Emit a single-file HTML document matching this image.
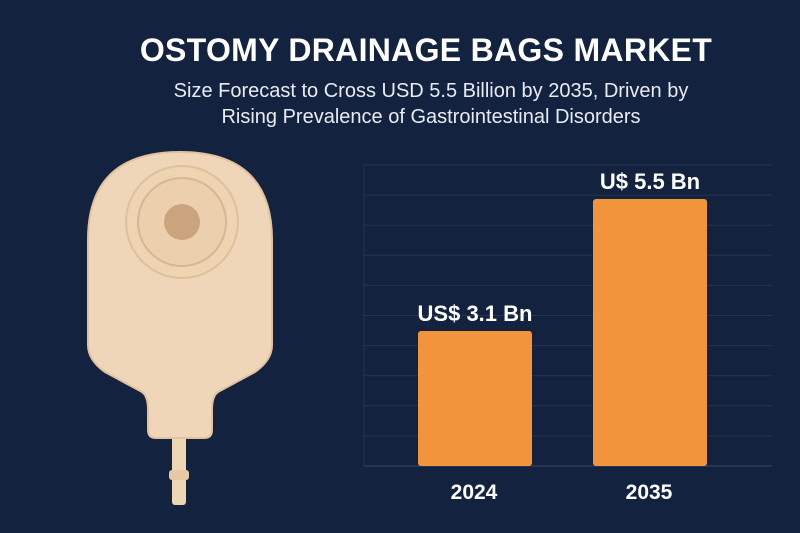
<!DOCTYPE html>
<html><head><meta charset="utf-8"><style>
body{margin:0;width:800px;height:533px;background:#13233f;overflow:hidden;font-family:"Liberation Sans",sans-serif;position:relative}
.t{position:absolute;left:0;width:852px;text-align:center;color:#fff}
</style></head><body>
<div class="t" style="top:32px;font-size:32px;font-weight:bold;letter-spacing:0.3px">OSTOMY DRAINAGE BAGS MARKET</div>
<div class="t" style="top:78px;font-size:20px;line-height:26px;color:#e8ecf2;width:862px">Size Forecast to Cross USD 5.5 Billion by 2035, Driven by<br>Rising Prevalence of Gastrointestinal Disorders</div>
<svg width="800" height="533" style="position:absolute;left:0;top:0">
<g>
<rect x="172" y="430" width="14" height="75" rx="3" fill="#eed5b4"/>
<rect x="169" y="470" width="20" height="10" rx="3" fill="#e6c9a4"/>
<path d="M88,240 Q88,152 180,152 Q272,152 272,240 L272,345 Q272,360 255,372 L218,392 Q212,396 212,410 L212,430 Q212,438 204,438 L156,438 Q148,438 148,430 L148,410 Q148,396 142,392 L105,372 Q88,360 88,345 Z" fill="#efd6b8" stroke="#e2c29d" stroke-width="2"/>
<circle cx="182" cy="222" r="56" fill="#eed4b3" stroke="#dfc199" stroke-width="2"/>
<circle cx="182" cy="222" r="44" fill="#ecd0ae" stroke="#d8b78e" stroke-width="2"/>
<circle cx="182" cy="222" r="18" fill="#c9a47e"/>
</g>
<g id="grid"></g><g id="bars"></g>
</svg>
<script>
const categories=["2024","2035"];
const values=[3.1,5.5];
const valueLabels=["US$ 3.1 Bn","U$ 5.5 Bn"];
const NS="http://www.w3.org/2000/svg";
const base=466,x0=364,x1=772;
function y(v){return base-(v-0.645)*55;}
function xc(i){return [475,650][i];}
const g=document.getElementById('grid'),b=document.getElementById('bars');
function mk(t,a,p){const e=document.createElementNS(NS,t);for(const k in a)e.setAttribute(k,a[k]);p.appendChild(e);return e;}
for(let i=0;i<=10;i++){const yy=165+i*30.1;const l=mk('line',{x1:x0,x2:x1,y1:yy,y2:yy,stroke:i==10?'#3a4a66':'#24344f','stroke-width':1},g);

}
const ax=mk('line',{x1:x0,x2:x0,y1:165,y2:base,stroke:'#24344f'},g);


categories.forEach((c,i)=>{
const w=114,top=y(values[i]);
const r=mk('rect',{x:xc(i)-w/2,y:top,width:w,height:base-top,rx:3,fill:'#f2943b'},b);


const t=mk('text',{x:xc(i),y:top-10,'text-anchor':'middle',fill:'#fff','font-size':22,'font-weight':'bold','font-family':'Liberation Sans'},b);t.textContent=valueLabels[i];


const xl=mk('text',{x:xc(i)-1,y:499,'text-anchor':'middle',fill:'#fff','font-size':21,'font-weight':'bold','font-family':'Liberation Sans'},b);xl.textContent=c;


});
</script>
</body></html>
